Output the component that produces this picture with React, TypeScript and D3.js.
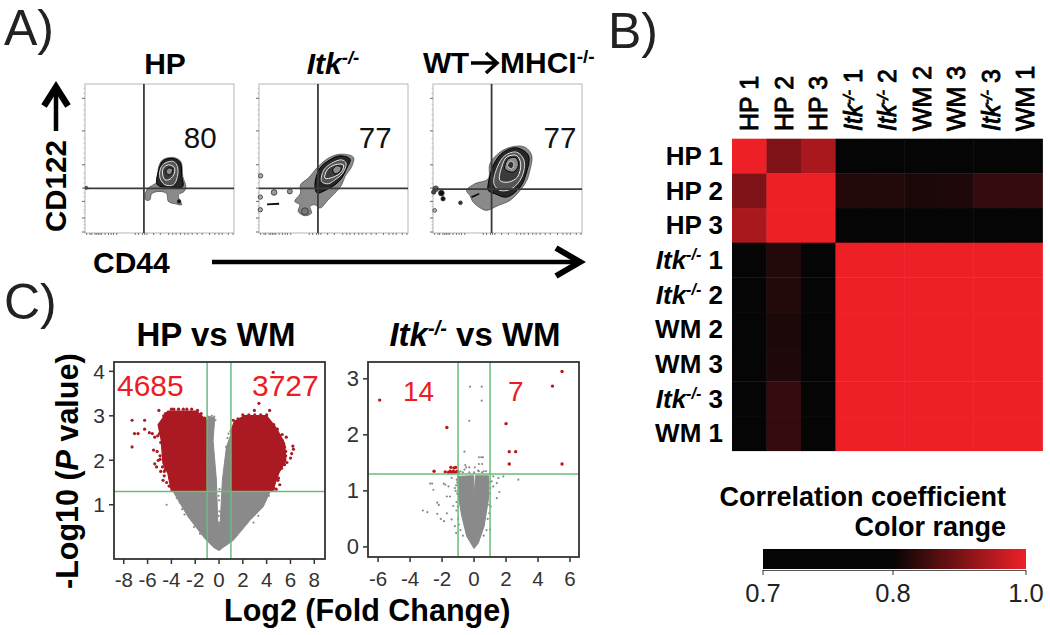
import React from "react";
import * as d3 from "d3";

type P = [number, number];

// ---------- Panel B: correlation matrix ----------
const sampleKeys = ["HP 1", "HP 2", "HP 3", "Itk 1", "Itk 2", "WM 2", "WM 3", "Itk 3", "WM 1"];
const rowHP1 = [1, 0.906, 0.94, 0.75, 0.75, 0.75, 0.75, 0.75, 0.75];
const rowHP2 = [0.906, 1, 1, 0.825, 0.827, 0.82, 0.822, 0.84, 0.84];
const rowHP3 = [0.94, 1, 1, 0.75, 0.75, 0.75, 0.75, 0.75, 0.75];
const rowItk1 = [0.75, 0.825, 0.75, 1, 1, 1, 1, 1, 1];
const rowItk2 = [0.75, 0.827, 0.75, 1, 1, 1, 1, 1, 1];
const rowWM2 = [0.75, 0.82, 0.75, 1, 1, 1, 1, 1, 1];
const rowWM3 = [0.75, 0.822, 0.75, 1, 1, 1, 1, 1, 1];
const rowItk3 = [0.75, 0.84, 0.75, 1, 1, 1, 1, 1, 1];
const rowWM1 = [0.75, 0.84, 0.75, 1, 1, 1, 1, 1, 1];
const matrix = [rowHP1, rowHP2, rowHP3, rowItk1, rowItk2, rowWM2, rowWM3, rowItk3, rowWM1];
const legendTicks = [0.7, 0.8, 1.0];

// ---------- Panel A: flow cytometry (channel units, 0-445 by 0-448) ----------
const flowNames = ["HP", "Itk", "MHCI"];
const flowPercents = ["80", "77", "77"];
const flowGateX = [176, 176, 175];
const flowGateY = [134, 134, 132];
const flow1Contours: P[][] = [
  [[179,105],[186,132],[216,155],[219,195],[232,220],[264,227],[286,215],[292,170],[301,140],[296,125],[279,115],[282,100],[289,85],[269,88],[249,95],[244,118],[224,125],[199,118],[194,100],[184,98]],
  [[216,145],[222,195],[234,218],[264,224],[284,212],[289,170],[292,140],[254,138]],
  [[224,165],[226,195],[239,210],[264,215],[276,200],[276,170],[264,145],[239,145]],
  [[232,175],[234,195],[249,205],[266,198],[267,180],[254,162],[239,160]],
  [[242,185],[249,195],[262,192],[259,180],[249,175]],
];
const flow2Contours: P[][] = [
  [[107,95],[124,120],[124,145],[147,165],[177,200],[207,225],[242,237],[282,228],[277,200],[257,170],[247,145],[227,120],[207,100],[182,75],[167,85],[152,80],[157,60],[137,52],[117,65],[122,85]],
  [[167,145],[182,195],[212,220],[242,232],[272,222],[262,195],[247,165],[227,145],[197,128],[174,120]],
  [[187,155],[194,190],[217,210],[247,220],[260,210],[250,180],[227,160],[207,148]],
  [[197,165],[204,190],[227,205],[252,205],[247,185],[222,168]],
  [[220,190],[232,202],[245,198],[242,185],[227,178]],
];
const flow3Contours: P[][] = [
  [[100,128],[125,148],[165,163],[170,208],[200,243],[240,260],[275,258],[295,233],[288,183],[280,158],[260,128],[230,98],[195,83],[160,68],[145,73],[120,93],[110,113]],
  [[165,148],[182,208],[210,243],[250,256],[285,233],[278,178],[260,138],[220,108],[185,118],[165,128]],
  [[182,148],[192,198],[215,233],[250,243],[272,218],[265,168],[235,133],[200,128]],
  [[200,158],[205,198],[220,228],[250,233],[262,208],[252,168],[225,153]],
  [[215,193],[225,223],[248,226],[255,203],[240,183]],
  [[222,203],[232,216],[242,208],[235,193]],
];
const flowContours = [flow1Contours, flow2Contours, flow3Contours];
const flow1Blobs: number[][] = [[4, 136, 3, "#777"], [281, 95, 4, "#111"]] as any;
const flow2Blobs: number[][] = [[5, 172, 5, "#aaa"], [45, 122, 7, "#999"], [92, 125, 6, "#999"], [4, 108, 5, "#aaa"], [4, 70, 5, "#aaa"], [137, 65, 9, "#777"]] as any;
const flow3Blobs: number[][] = [[8, 133, 7, "#666"], [25, 120, 7, "#111"], [30, 103, 5, "#111"], [2, 123, 5, "#444"], [5, 68, 4, "#bbb"], [82, 91, 4, "#333"]] as any;
const flowBlobs = [flow1Blobs, flow2Blobs, flow3Blobs];
const flow2Dash: P[] = [[24, 86], [60, 88]];
const flow3Dash: P[] = [[115, 108], [138, 118]];
const flowDashes = [null, flow2Dash, flow3Dash];
const flowYMajor = [405, 307, 205, 135, 95, 45, 3];
const flowYMinor = [435, 420, 385, 370, 355, 340, 325, 285, 270, 255, 240, 225, 180, 165, 150, 120, 110, 80, 70, 60, 35, 25, 15];
const flowXTicks = [5, 15, 20, 30, 35, 40, 45, 50, 60, 70, 78, 85, 95, 150, 160, 172, 178, 185, 205, 225, 250, 262, 272, 285, 298, 308, 320, 335, 350, 372, 388, 400, 410, 428, 442];

// ---------- Panel C: volcano plots ----------
const hpRedLeft: P[] = [[-4,1.32],[-4.29,1.71],[-4.7,1.93],[-4.85,2.46],[-5.1,2.8],[-4.3,3.1],[-1.9,3.1],[-1.05,2.9],[-1,1.32]];
const hpRedRight: P[] = [[1.03,1.32],[1.03,2.68],[1.3,2.87],[2.15,3],[3.98,3],[4.8,2.72],[5.5,2.38],[5.6,2],[5,1.71],[4.5,1.32]];
const hpGrey: P[] = [[-3.9,1.32],[-3.2,1],[-2.6,0.73],[-1.2,0.24],[-0.4,0.03],[0,-0.03],[0.4,0.05],[1.2,0.2],[2.6,0.65],[3.7,0.95],[4.3,1.3],[1.03,1.32],[1.03,2.6],[0.62,2.3],[0.28,1.55],[0.11,0.65],[0,0.47],[-0.11,0.65],[-0.22,1.55],[-0.5,2.45],[-0.36,2.95],[-1,3],[-1,1.32]];
const hpRedDots: P[] = [[-7.3,2.9],[-6.25,2.9],[-7.3,2.3],[-7.1,2.6],[-6.8,2.6],[-6.25,2.7],[-5.85,2.62],[-5.6,2.6],[-5.4,2.52],[-5.05,3.12],[-4.65,3],[-5.5,2.23],[-5.4,1.92],[-5.25,1.85],[-4.95,2.02],[-4.7,1.55],[-4.6,1.75],[-4.5,3.05],[-4.4,2.9],[-4.9,2.75],[-5,2.6],[-5.15,2.55],[-4.9,2.4],[-5.2,2.2],[-4.95,2.1],[-5.1,2],[-4.75,1.85],[-4.9,1.75],[-4.6,1.65],[-4.4,1.5],[-4.2,1.42],[-4.15,1.6],[-4.5,1.8],[-4.6,2.6],[-4,3.15],[-3.8,3.15],[-3.4,3.15],[-3,3.15],[-2.7,3.15],[-2.3,3.15],[-1.8,3.12],[-1.5,3.05],[-1.2,2.95],[4.55,3.98],[3.35,3.28],[2.97,3.12],[4.25,3.12],[5.3,2.58],[5.65,2.52],[6.2,2.32],[6.25,2.25],[6.1,2.15],[6,2.05],[5.6,2.2],[5.25,1.82],[4.95,1.55],[1.2,2.9],[1.6,2.93],[2,3.02],[2.5,3.02],[3,3.02],[3.5,3.02],[4,3.02],[4.2,2.85],[4.6,2.8],[4.9,2.7],[5.1,2.55],[5.3,2.45],[5.5,2.3],[5.6,2.1],[5.7,1.95],[5.5,1.9],[5.2,1.85],[5,1.6],[5.1,1.45],[4.8,1.35],[4.6,1.38],[5.4,2.2]];
const hpGreyDots: P[] = [[-4.4,1],[-3.4,1.2],[-3.3,1.05],[-3.1,0.9],[-2.9,0.78],[-3.55,1.15],[3.9,1.1],[3.8,1.22],[4.2,1.2],[4.6,1.33],[3.3,0.75],[3,0.78],[2.9,0.6],[-2.1,0.5],[-1.6,0.35],[1.7,0.4],[-0.6,3],[-0.4,2.98],[-0.3,2.9],[0.7,2.5],[0.6,2.3],[0.8,2.6],[0.95,2.65],[0.05,0.5],[0,0.6],[-0.02,0.75],[0.03,0.85],[0,1.1],[-0.03,1.2],[0.04,1.35]];
const itkGrey: P[] = [[0,-0.03],[-0.46,0.19],[-0.77,0.55],[-0.98,0.9],[-1.02,1.26],[-0.04,1.27],[0,0.85],[0.08,1.27],[0.9,1.27],[0.9,0.85],[0.63,0.37],[0.27,0.07]];
const itkRedDots: P[] = [[-5.9,2.62],[-1.7,2.13],[-2.5,1.35],[-1.8,1.34],[-1.5,1.35],[-1.45,1.42],[-1.4,1.33],[-1.3,1.35],[-1.2,1.33],[-1.15,1.42],[-1.1,1.34],[-1.05,1.35],[-1.6,1.33],[-1.25,1.41],[2,2.2],[2.2,1.7],[2.6,1.7],[2.2,1.48],[5.5,3.13],[4.9,2.87],[5.5,1.48]];
const itkGreyDots: P[] = [[-3.2,0.65],[-2.92,0.62],[-2.3,0.59],[-2.3,0.79],[-2.2,0.75],[-2.08,0.5],[-1.88,0.46],[-1.7,0.6],[-2.75,1.13],[-2.62,1.13],[-2.54,1.02],[-1.8,1.11],[-1.6,1.08],[-1.5,0.9],[-1.3,0.73],[-1.4,0.49],[-1.2,0.37],[-1.12,0.25],[-1.7,0.9],[-1.9,1.13],[-1.4,1.23],[2.77,1.2],[1.83,1.26],[1.52,1.23],[1.2,1.26],[1.42,1.14],[1.58,0.98],[1.42,0.87],[1.2,1.08],[1.1,1.17],[1,0.31],[0.95,0.6],[1.05,0.72],[-0.6,1.7],[-0.3,2.25],[0.48,2.86],[-0.25,2.86],[0.48,2.61],[0.3,1.6],[0.45,1.6],[0.55,1.6],[0.3,1.48],[0.5,1.48],[-0.55,1.46],[-0.6,1.38],[-0.5,1.42],[-0.3,1.42],[0.05,1.42],[0.25,1.36],[0.5,1.33],[0.6,1.35],[-0.7,1.33],[-0.3,1.33],[0,1.33],[0.3,1.35],[0.75,1.35],[-0.85,1.35],[-0.95,1.33],[-1.05,1.15],[-1.15,1.0],[-1.1,0.8],[-1.08,1.2],[-1.12,1.1],[-1.2,1.05],[-1.05,0.95],[-1.1,0.65],[-1.0,0.5],[-0.95,0.4],[-0.85,0.3],[-0.7,0.2],[-1.02,0.72],[0.98,1.15],[1.02,1.05],[1,0.95],[0.95,0.75],[0.85,0.5],[0.78,0.3],[0.6,0.2]];
const hpXTicks = [-8, -6, -4, -2, 0, 2, 4, 6, 8];
const hpYTicks = [1, 2, 3, 4];
const itkXTicks = [-6, -4, -2, 0, 2, 4, 6];
const itkYTicks = [0, 1, 2, 3];

// ---------- Layout ----------
const SANS = "'Liberation Sans', Arial, sans-serif";
const RED_TEXT = "#ed1c24";
const GREEN = "#6cbb7c";
const RED_DOT = "#ab1a22";
const GREY = "#8a8a8a";

function ItkLabel({ n, size }: { n?: string; size: number }) {
  return (
    <>
      <tspan fontStyle="italic">Itk</tspan>
      <tspan fontSize={size * 0.62} fontStyle="italic" dy={-size * 0.33}>-/-</tspan>
      {n && <tspan dy={size * 0.33}>{` ${n}`}</tspan>}
    </>
  );
}

function sampleLabel(key: string, size: number) {
  if (key.startsWith("Itk")) return <ItkLabel n={key.split(" ")[1]} size={size} />;
  return key;
}

function Heatmap() {
  const x = d3.scaleBand<number>().domain(d3.range(9)).range([732, 1042.5]);
  const y = d3.scaleBand<number>().domain(d3.range(9)).range([138.7, 450.7]);
  const color = d3.scaleLinear<string>().domain(legendTicks).range(["#050505", "#050505", "#ee2027"]).clamp(true);
  const legendX = d3.scaleLinear().domain(legendTicks).range([763, 893, 1026]);
  return (
    <g fontFamily={SANS} fill="#000">
      <defs>
        <linearGradient id="legendGrad" gradientUnits="userSpaceOnUse" x1={763} x2={1026} y1={0} y2={0}>
          {legendTicks.map((t) => (
            <stop key={t} offset={(legendX(t) - 763) / 263} stopColor={color(t)} />
          ))}
        </linearGradient>
      </defs>
      {matrix.map((row, r) =>
        row.map((v, c) => (
          <rect key={`${r}-${c}`} x={x(c)} y={y(r)} width={x.bandwidth() + 0.4} height={y.bandwidth() + 0.4} fill={color(v)} />
        ))
      )}
      {sampleKeys.map((k, i) => (
        <text key={k} x={723} y={y(i)! + y.bandwidth() / 2 + 9} textAnchor="end" fontWeight="bold" fontSize={26}>
          {sampleLabel(k, 26)}
        </text>
      ))}
      {sampleKeys.map((k, i) => (
        <text
          key={k}
          transform={`translate(${x(i)! + x.bandwidth() / 2 + 9},131) rotate(-90)`}
          fontSize={25}
          stroke="#000"
          strokeWidth={0.9}
        >
          {sampleLabel(k, 25)}
        </text>
      ))}
      <text x={1006} y={506} textAnchor="end" fontWeight="bold" fontSize={27}>Correlation coefficient</text>
      <text x={1006} y={536} textAnchor="end" fontWeight="bold" fontSize={27}>Color range</text>
      <rect x={763} y={549} width={263} height={20} fill="url(#legendGrad)" />
      <line x1={763} x2={1026} y1={570.5} y2={570.5} stroke="#555" strokeWidth={1} />
      {legendTicks.map((t) => (
        <g key={t}>
          <line x1={legendX(t)} x2={legendX(t)} y1={570} y2={575} stroke="#333" strokeWidth={1} />
          <text x={legendX(t)} y={602} textAnchor="middle" fontSize={25.5} fill="#222">{t.toFixed(1)}</text>
        </g>
      ))}
    </g>
  );
}

const contourFills = ["#8a8a8a", "#262626", "#555555", "#3a3a3a", "#8c8c8c", "#333333"];
const contourStrokes = ["#444", "#000", "#dddddd", "#f0f0f0", "#000", "#ddd"];

function FlowPanel({ i, left }: { i: number; left: number }) {
  const x = d3.scaleLinear().domain([0, 445]).range([left, left + 149]);
  const y = d3.scaleLinear().domain([0, 448]).range([233, 84]);
  const path = d3.line<P>().x((d) => x(d[0])).y((d) => y(d[1])).curve(d3.curveCatmullRomClosed.alpha(0.5));
  const dash = flowDashes[i];
  return (
    <g>
      <rect x={left} y={84} width={149} height={149} fill="#fff" stroke="#b5b5b5" strokeWidth={1} />
      {flowYMajor.map((t) => (
        <line key={t} x1={left - 3} x2={left} y1={y(t)} y2={y(t)} stroke="#666" strokeWidth={1} />
      ))}
      {flowYMinor.map((t) => (
        <line key={t} x1={left - 1.5} x2={left} y1={y(t)} y2={y(t)} stroke="#aaa" strokeWidth={0.7} />
      ))}
      {flowXTicks.map((t) => (
        <line key={t} x1={x(t)} x2={x(t)} y1={233} y2={235} stroke="#555" strokeWidth={0.8} />
      ))}
      <g filter="url(#soft)">
        {flowContours[i].map((c, k) => (
          <path key={k} d={path(c) ?? ""} fill={contourFills[k]} stroke={contourStrokes[k]} strokeWidth={k === 0 ? 0.7 : 1} />
        ))}
        {(flowBlobs[i] as any[]).map((b, k) => (
          <circle key={k} cx={x(b[0])} cy={y(b[1])} r={(b[2] * 149) / 445 + 0.5} fill={b[3]} stroke="#333" strokeWidth={0.8} />
        ))}
        {dash && <line x1={x(dash[0][0])} x2={x(dash[1][0])} y1={y(dash[0][1])} y2={y(dash[1][1])} stroke="#111" strokeWidth={1.8} />}
      </g>
      <line x1={x(flowGateX[i])} x2={x(flowGateX[i])} y1={84} y2={233} stroke="#3a3a3a" strokeWidth={1.8} />
      <line x1={left} x2={left + 149} y1={y(flowGateY[i])} y2={y(flowGateY[i])} stroke="#3a3a3a" strokeWidth={1.8} />
      <text x={x(i === 2 ? 330 : i === 1 ? 298 : 295)} y={148} fontFamily={SANS} fontSize={29.5} fill="#111">
        {flowPercents[i]}
      </text>
    </g>
  );
}

function PanelA() {
  return (
    <g fontFamily={SANS} fill="#000">
      {flowNames.map((n, i) => (
        <FlowPanel key={n} i={i} left={[85, 259, 433][i]} />
      ))}
      <text x={165} y={74} textAnchor="middle" fontWeight="bold" fontSize={30}>HP</text>
      <text x={333} y={74} textAnchor="middle" fontWeight="bold" fontSize={30}><ItkLabel size={30} /></text>
      <text x={423} y={73} fontWeight="bold" fontSize={30} textLength={46}>WT</text>
      <path d="M471 63 H496 M486 53 L497 63 L486 73" fill="none" stroke="#000" strokeWidth={3.5} />
      <text x={500} y={73} fontWeight="bold" fontSize={30}>MHCI<tspan fontSize={19} dy={-10}>-/-</tspan></text>
      <text transform="translate(66,232) rotate(-90)" fontWeight="bold" fontSize={29.5}>CD122</text>
      <path d="M56 131 V86" stroke="#000" strokeWidth={4.5} fill="none" />
      <path d="M44 106 L56 87 L68 106" stroke="#000" strokeWidth={6.5} fill="none" />
      <text x={93} y={273} fontWeight="bold" fontSize={30}>CD44</text>
      <path d="M212 262 H580" stroke="#000" strokeWidth={4.5} fill="none" />
      <path d="M556 248 L580 262 L556 276" stroke="#000" strokeWidth={6} fill="none" />
    </g>
  );
}

function VolcanoFrame({ x, y, xTicks, yTicks, lab, size }: any) {
  const [x0, x1] = x.range();
  const [y0, y1] = y.range();
  return (
    <g fontFamily={SANS}>
      <rect x={x0} y={y1} width={x1 - x0} height={y0 - y1} fill="none" stroke="#333" strokeWidth={1.8} />
      {xTicks.map((t: number) => (
        <g key={t}>
          <line x1={x(t)} x2={x(t)} y1={y0} y2={y0 + 5} stroke="#333" strokeWidth={1.5} />
          <text x={x(t)} y={lab} textAnchor="middle" fontSize={20.5} fill="#333">{t}</text>
        </g>
      ))}
      {yTicks.map((t: number) => (
        <g key={t}>
          <line x1={x0 - 5} x2={x0} y1={y(t)} y2={y(t)} stroke="#333" strokeWidth={1.5} />
          <text x={x0 - 9} y={y(t) + 7.5} textAnchor="end" fontSize={size} fill="#333">{t}</text>
        </g>
      ))}
    </g>
  );
}

function Volcanoes() {
  const hx = d3.scaleLinear().domain([-8.82, 8.9]).range([114, 325]);
  const hy = d3.scaleLinear().domain([-0.22, 4.21]).range([559, 362]);
  const ix = d3.scaleLinear().domain([-6.63, 6.56]).range([368, 579]);
  const iy = d3.scaleLinear().domain([-0.18, 3.3]).range([557, 362]);
  const hp = d3.line<P>().x((d) => hx(d[0])).y((d) => hy(d[1]));
  const ip = d3.line<P>().x((d) => ix(d[0])).y((d) => iy(d[1]));
  const greens = (x: any, y: any) => {
    const [a, b] = x.range();
    const [c, e] = y.range();
    return (
      <g stroke={GREEN} strokeWidth={1.5}>
        <line x1={x(-1)} x2={x(-1)} y1={e} y2={c} />
        <line x1={x(1)} x2={x(1)} y1={e} y2={c} />
        <line x1={a} x2={b} y1={y(1.3)} y2={y(1.3)} />
      </g>
    );
  };
  return (
    <g>
      <path d={(hp(hpGrey) ?? "") + "Z"} fill={GREY} stroke={GREY} strokeWidth={1} />
      {hpGreyDots.map((d, i) => <circle key={i} cx={hx(d[0])} cy={hy(d[1])} r={1.1} fill={GREY} />)}
      <path d={(hp(hpRedLeft) ?? "") + "Z"} fill={RED_DOT} stroke={RED_DOT} strokeWidth={1.5} />
      <path d={(hp(hpRedRight) ?? "") + "Z"} fill={RED_DOT} stroke={RED_DOT} strokeWidth={1.5} />
      {hpRedDots.map((d, i) => <circle key={i} cx={hx(d[0])} cy={hy(d[1])} r={1.6} fill={RED_DOT} />)}
      {greens(hx, hy)}
      <VolcanoFrame x={hx} y={hy} xTicks={hpXTicks} yTicks={hpYTicks} lab={587} size={21} />

      <path d={(ip(itkGrey) ?? "") + "Z"} fill={GREY} stroke={GREY} strokeWidth={1} />
      {itkGreyDots.map((d, i) => <circle key={i} cx={ix(d[0])} cy={iy(d[1])} r={1.1} fill={GREY} />)}
      {itkRedDots.map((d, i) => <circle key={i} cx={ix(d[0])} cy={iy(d[1])} r={1.7} fill="#c0141c" />)}
      {greens(ix, iy)}
      <VolcanoFrame x={ix} y={iy} xTicks={itkXTicks} yTicks={itkYTicks} lab={586} size={22} />

      <g fontFamily={SANS} fill={RED_TEXT}>
        <text x={117} y={396} fontSize={30}>4685</text>
        <text x={252} y={396} fontSize={30}>3727</text>
        <text x={403} y={401} fontSize={28}>14</text>
        <text x={508} y={401} fontSize={28}>7</text>
      </g>
      <g fontFamily={SANS} fontWeight="bold" fill="#000">
        <text x={216} y={346} textAnchor="middle" fontSize={33}>HP vs WM</text>
        <text x={475} y={346} textAnchor="middle" fontSize={33}>
          <tspan fontStyle="italic">Itk</tspan>
          <tspan fontSize={20} dy={-11} fontStyle="italic">-/-</tspan>
          <tspan dy={11}> vs WM</tspan>
        </text>
        <text transform="translate(78,589) rotate(-90)" fontSize={30.5}>
          -Log10 (<tspan fontStyle="italic">P</tspan> value)
        </text>
        <text x={224} y={621} fontSize={30.5}>Log2 (Fold Change)</text>
      </g>
    </g>
  );
}

export default function App() {
  return (
    <svg width={1050} height={635} viewBox="0 0 1050 635" style={{ position: "absolute", left: 0, top: 0, background: "#fff" }}>
      <defs>
        <filter id="soft" x="-20%" y="-20%" width="140%" height="140%">
          <feGaussianBlur stdDeviation={0.5} />
        </filter>
      </defs>
      <g fontFamily={SANS} fontSize={50} fill="#222">
        <text x={4} y={45}>A)</text>
        <text x={608} y={48}>B)</text>
        <text x={4} y={319}>C)</text>
      </g>
      <PanelA />
      <Heatmap />
      <Volcanoes />
    </svg>
  );
}
